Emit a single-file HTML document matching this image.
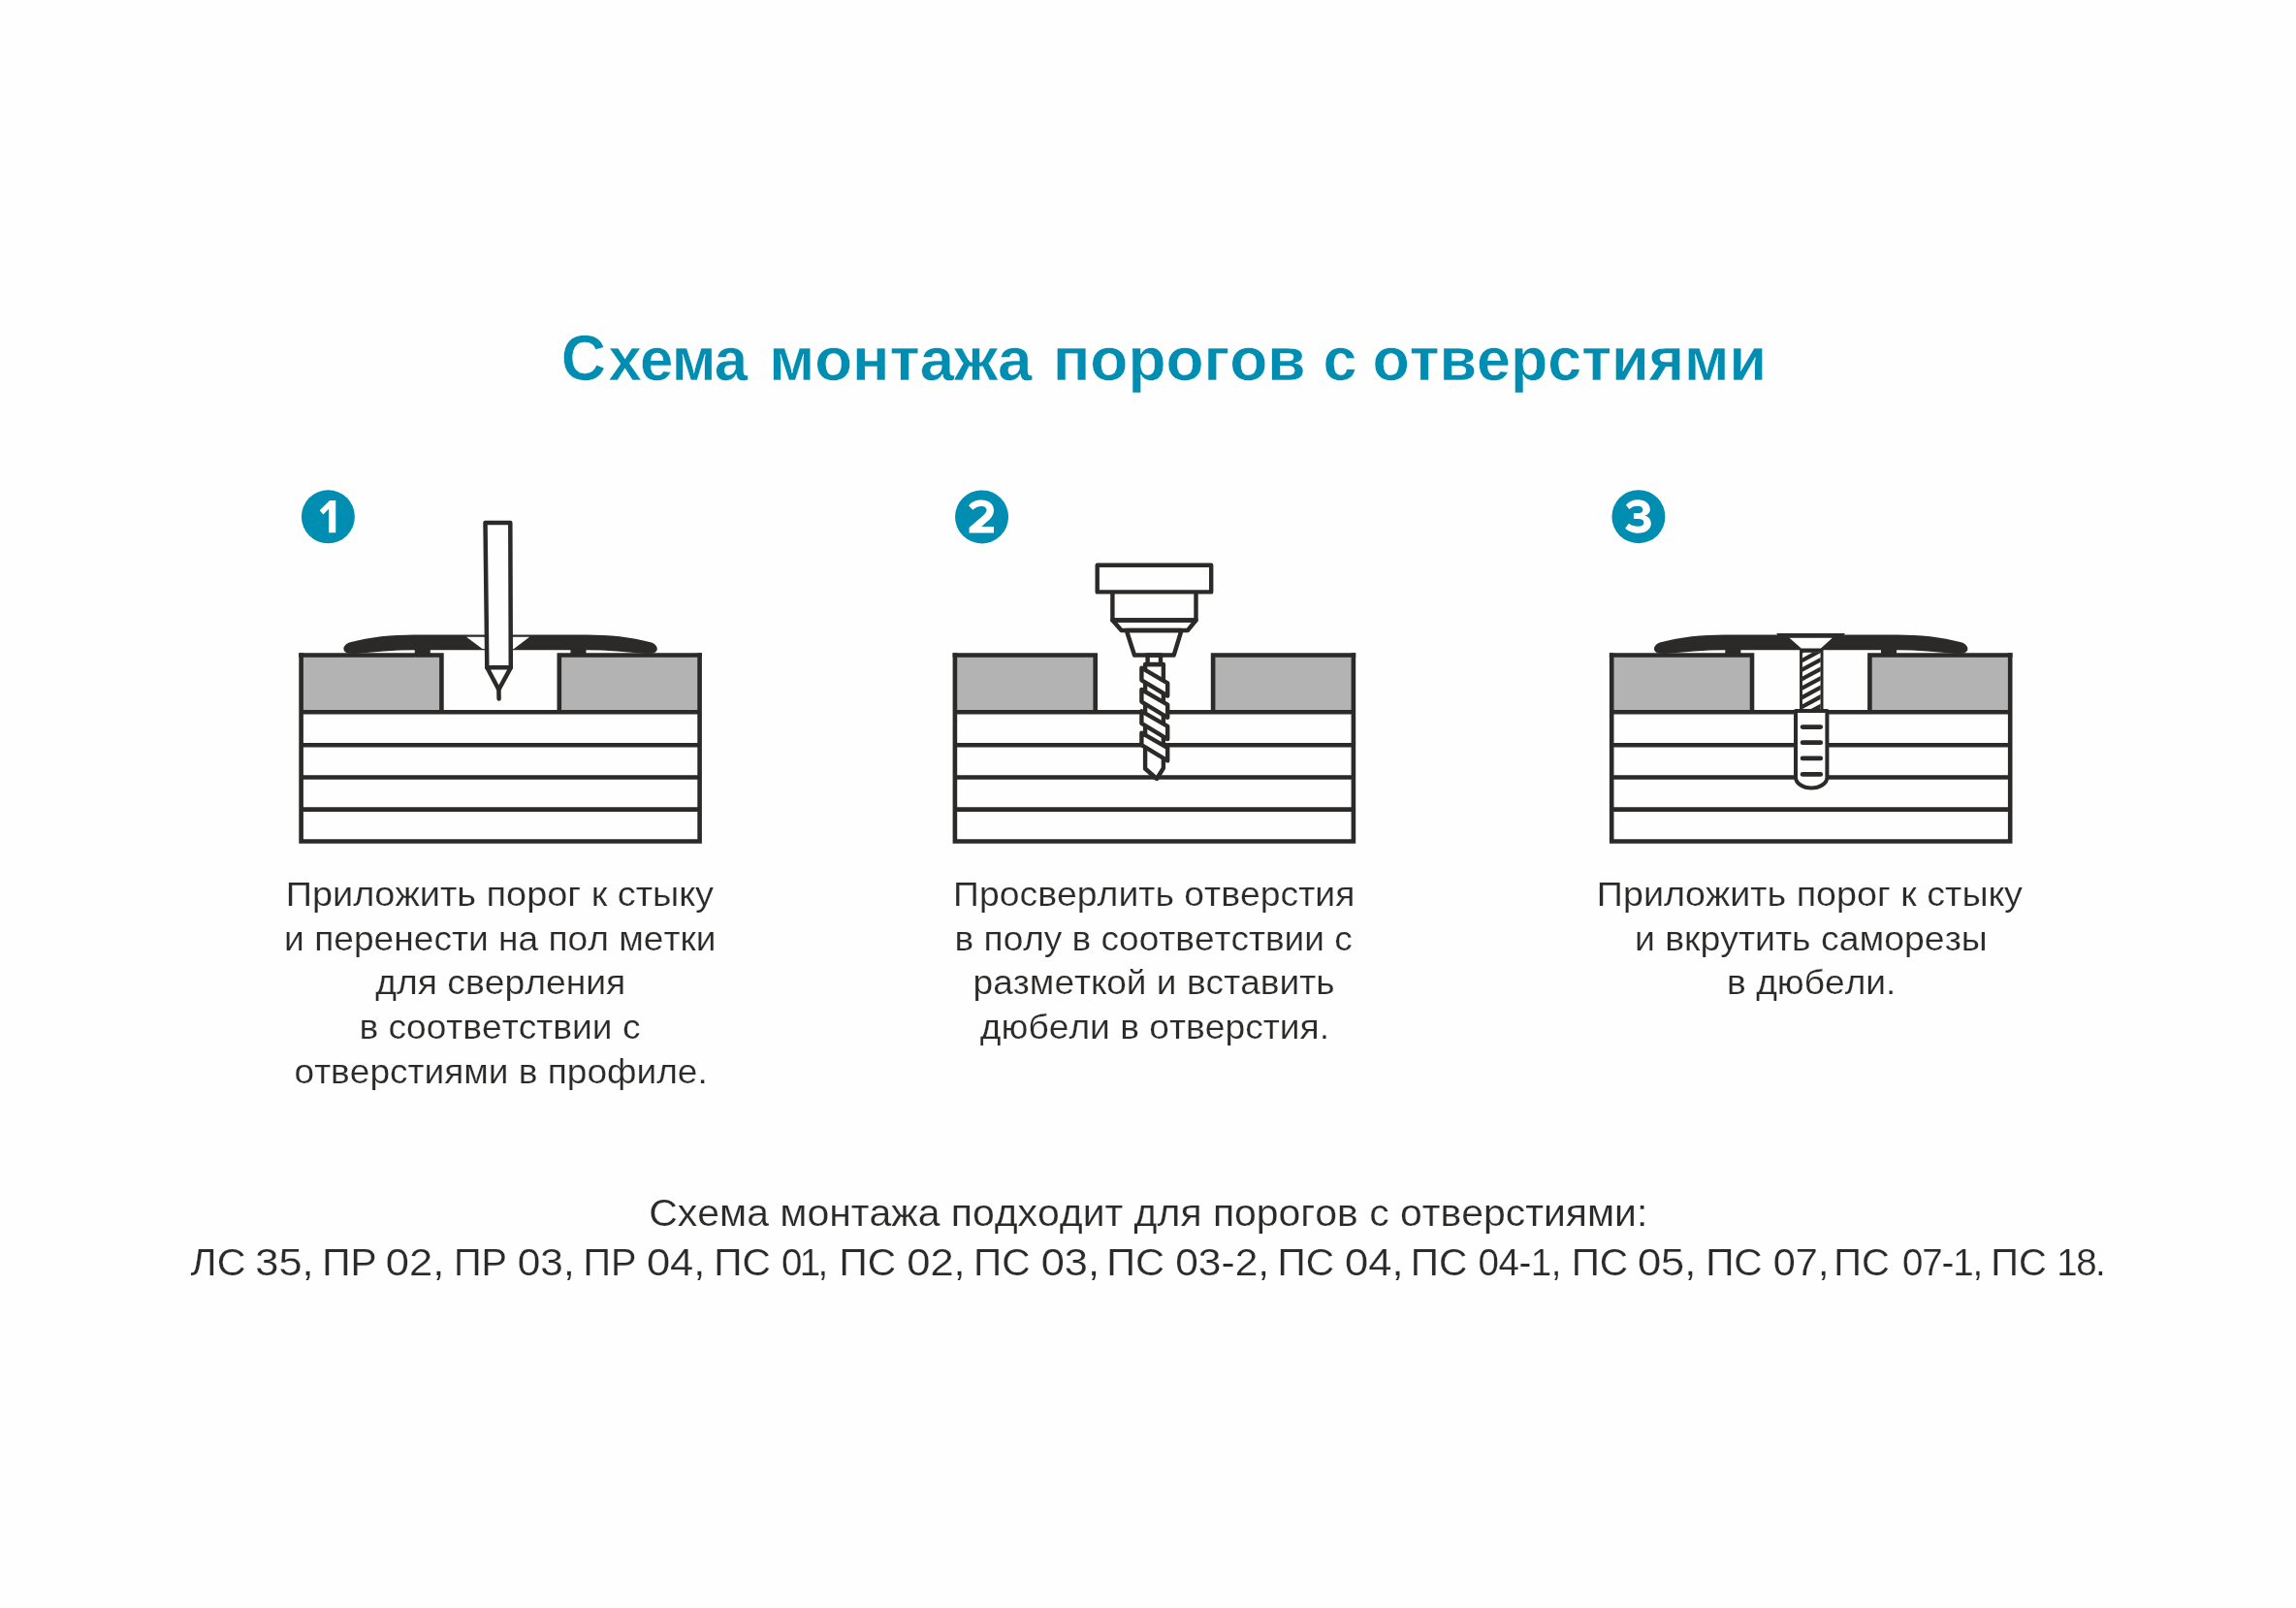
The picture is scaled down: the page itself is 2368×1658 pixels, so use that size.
<!DOCTYPE html>
<html><head><meta charset="utf-8"><title>Схема монтажа порогов с отверстиями</title>
<style>html,body{margin:0;padding:0;background:#fefefe;width:2368px;height:1658px;overflow:hidden}svg{display:block}</style>
</head><body>
<svg width="2368" height="1658" viewBox="0 0 2368 1658">
<rect width="2368" height="1658" fill="#fefefe"/>
<rect x="310.6" y="675.5" width="144.8" height="58.8" fill="#b2b3b2"/>
<rect x="576.8" y="675.5" width="144.8" height="58.8" fill="#b2b3b2"/>
<path d="M 308.3 675.5 H 455.4 V 734.3 M 576.8 734.3 V 675.5 H 723.9" fill="none" stroke="#2b2a29" stroke-width="4.6" stroke-linejoin="miter" stroke-linecap="butt"/>
<path d="M 310.6 673.2 V 867.5 H 721.6 V 673.2 M 310.6 734.3 H 721.6 M 310.6 768.2 H 721.6 M 310.6 801.5 H 721.6 M 310.6 834.6 H 721.6 " fill="none" stroke="#2b2a29" stroke-width="4.6" stroke-linecap="butt" stroke-linejoin="miter"/>
<path d="M 516.1 654.4 L 427.1 654.4 C 404.1 654.5 381.1 656.5 361.1 662.3 C 352.6 665 352.1 673 360.1 673.8 L 366.1 674 C 386.1 672.5 406.1 670.3 427.7 670.3 L 427.7 676 L 443.8 676 L 443.8 670.3 L 588.4 670.3 L 588.4 676 L 604.5 676 L 604.5 670.3 C 626.1 670.3 646.1 672.5 666.1 674 L 672.1 673.8 C 680.1 673 679.6 665 671.1 662.3 C 651.1 656.5 628.1 654.5 605.1 654.4 Z" fill="#2b2a29"/>
<path d="M 481 656.7 L 546.1 656.7 L 530 669 L 497.5 669 Z" fill="#fefefe"/>
<path d="M 500.5 539 L 526.3 539 L 526.8 688.3 L 502.3 688.3 Z" fill="#fefefe" stroke="#2b2a29" stroke-width="4.5" stroke-linejoin="round"/>
<path d="M 502.3 688.3 L 526.8 688.3 L 514.4 711 Z" fill="#fefefe" stroke="#2b2a29" stroke-width="4.5" stroke-linejoin="round"/>
<path d="M 514.4 711 L 514.6 720.5" stroke="#2b2a29" stroke-width="4.5" stroke-linecap="round"/>
<circle cx="338.4" cy="532.8" r="27.5" fill="#008db2"/><path d="M 339.05 549.22 L 346.26 549.22 L 346.26 515.88 L 340.04 515.88 L 329.74 526.23 L 333.33 530.56 L 339.05 524.84 Z" fill="#ffffff"/>
<rect x="984.9" y="675.5" width="144.8" height="58.8" fill="#b2b3b2"/>
<rect x="1251.1" y="675.5" width="144.8" height="58.8" fill="#b2b3b2"/>
<path d="M 982.6 675.5 H 1129.7 V 734.3 M 1251.1 734.3 V 675.5 H 1398.2" fill="none" stroke="#2b2a29" stroke-width="4.6" stroke-linejoin="miter" stroke-linecap="butt"/>
<path d="M 984.9 673.2 V 867.5 H 1395.9 V 673.2 M 984.9 734.3 H 1395.9 M 984.9 768.2 H 1395.9 M 984.9 801.5 H 1395.9 M 984.9 834.6 H 1395.9 " fill="none" stroke="#2b2a29" stroke-width="4.6" stroke-linecap="butt" stroke-linejoin="miter"/>
<path d="M 1181.1 685 L 1199.9 685 L 1199.9 792 L 1193 803 L 1181.1 792.5 Z" fill="#fefefe" stroke="#2b2a29" stroke-width="4.4" stroke-linejoin="round"/>
<path d="M 1177.4 688.7 L 1204.2 704.3 L 1204.2 717.5 L 1177.4 701.3 Z" fill="#fefefe" stroke="#2b2a29" stroke-width="4.4" stroke-linejoin="round"/>
<path d="M 1177.4 711 L 1204.2 726.6 L 1204.2 739.8 L 1177.4 723.6 Z" fill="#fefefe" stroke="#2b2a29" stroke-width="4.4" stroke-linejoin="round"/>
<path d="M 1177.4 733.3 L 1204.2 748.9 L 1204.2 762.1 L 1177.4 745.9 Z" fill="#fefefe" stroke="#2b2a29" stroke-width="4.4" stroke-linejoin="round"/>
<path d="M 1177.4 755.6 L 1204.2 771.2 L 1204.2 784.4 L 1177.4 768.2 Z" fill="#fefefe" stroke="#2b2a29" stroke-width="4.4" stroke-linejoin="round"/>
<g fill="#fefefe" stroke="none"><rect x="1131.7" y="582.7" width="117.5" height="27.7"/><path d="M 1147.4 610.4 L 1147.4 639.5 L 1233.5 639.5 L 1233.5 610.4"/><path d="M 1147.4 639.5 L 1156.6 650 L 1224.9 650 L 1233.5 639.5 Z"/><path d="M 1161.8 650 L 1218.5 650 L 1210.7 675.5 L 1170 675.5 Z"/><rect x="1183.6" y="675.5" width="13.4" height="9.5"/></g>
<g fill="none" stroke="#2b2a29" stroke-width="4.4" stroke-linejoin="round"><rect x="1131.7" y="582.7" width="117.5" height="27.7"/><path d="M 1147.4 610.4 L 1147.4 639.5 L 1233.5 639.5 L 1233.5 610.4"/><path d="M 1147.4 639.5 L 1156.6 650 L 1224.9 650 L 1233.5 639.5 Z"/><path d="M 1161.8 650 L 1218.5 650 L 1210.7 675.5 L 1170 675.5 Z"/><rect x="1183.6" y="675.5" width="13.4" height="9.5"/></g>
<circle cx="1012.55" cy="532.9" r="27.5" fill="#008db2"/><path d="M 999.12 521.46 C 1001.85 517.48 1006.83 515.49 1012.05 515.49 C 1019.27 515.49 1024.99 519.47 1024.99 525.93 C 1024.99 530.91 1022.25 534.39 1017.77 538.12 L 1012.3 543.1 L 1024.99 543.1 L 1024.99 549.57 L 999.61 549.57 L 999.61 544.09 L 1012.3 532.9 C 1015.78 529.91 1017.53 527.92 1017.53 525.93 C 1017.53 523.45 1015.29 521.95 1012.05 521.95 C 1008.82 521.95 1005.83 523.45 1003.35 525.69 Z" fill="#ffffff"/>
<rect x="1662.2" y="675.5" width="144.8" height="58.8" fill="#b2b3b2"/>
<rect x="1928.4" y="675.5" width="144.8" height="58.8" fill="#b2b3b2"/>
<path d="M 1659.9 675.5 H 1807 V 734.3 M 1928.4 734.3 V 675.5 H 2075.5" fill="none" stroke="#2b2a29" stroke-width="4.6" stroke-linejoin="miter" stroke-linecap="butt"/>
<path d="M 1662.2 673.2 V 867.5 H 2073.2 V 673.2 M 1662.2 734.3 H 2073.2 M 1662.2 768.2 H 2073.2 M 1662.2 801.5 H 2073.2 M 1662.2 834.6 H 2073.2 " fill="none" stroke="#2b2a29" stroke-width="4.6" stroke-linecap="butt" stroke-linejoin="miter"/>
<path d="M 1867.7 654.4 L 1778.7 654.4 C 1755.7 654.5 1732.7 656.5 1712.7 662.3 C 1704.2 665 1703.7 673 1711.7 673.8 L 1717.7 674 C 1737.7 672.5 1757.7 670.3 1779.3 670.3 L 1779.3 676 L 1795.4 676 L 1795.4 670.3 L 1940 670.3 L 1940 676 L 1956.1 676 L 1956.1 670.3 C 1977.7 670.3 1997.7 672.5 2017.7 674 L 2023.7 673.8 C 2031.7 673 2031.2 665 2022.7 662.3 C 2002.7 656.5 1979.7 654.5 1956.7 654.4 Z" fill="#2b2a29"/>
<path d="M 1832.2 652.9 L 1902.8 652.9 L 1901.4 655.5 L 1833.6 655.5 Z" fill="#2b2a29"/>
<path d="M 1845.5 657.7 L 1889.8 657.7 L 1877.9 668.4 L 1857.7 668.4 Z" fill="#fefefe"/>
<rect x="1857.5" y="671.4" width="21.55" height="61" fill="#fefefe" stroke="#2b2a29" stroke-width="2.9"/>
<clipPath id="sc"><rect x="1858.9" y="672.8" width="18.8" height="59"/></clipPath>
<path d="M 1850 666.51 L 1890 644.91 M 1850 676.06 L 1890 654.46 M 1850 685.61 L 1890 664.01 M 1850 695.16 L 1890 673.56 M 1850 704.71 L 1890 683.11 M 1850 714.26 L 1890 692.66 M 1850 723.81 L 1890 702.21 M 1850 733.36 L 1890 711.76 M 1850 742.91 L 1890 721.31 M 1850 752.46 L 1890 730.86 " stroke="#2b2a29" stroke-width="4.2" clip-path="url(#sc)"/>
<path d="M 1852 733 L 1852 801.5 A 16.2 11 0 0 0 1884.4 801.5 L 1884.4 733 Z" fill="#fefefe" stroke="#2b2a29" stroke-width="4" stroke-linejoin="round"/>
<path d="M 1859.1 749.6 L 1877.7 749.6" stroke="#2b2a29" stroke-width="4.8" stroke-linecap="round"/>
<path d="M 1859.1 765.7 L 1877.7 765.7" stroke="#2b2a29" stroke-width="4.8" stroke-linecap="round"/>
<path d="M 1859.1 781.9 L 1877.7 781.9" stroke="#2b2a29" stroke-width="4.8" stroke-linecap="round"/>
<path d="M 1859.1 798.4 L 1877.7 798.4" stroke="#2b2a29" stroke-width="4.8" stroke-linecap="round"/>
<circle cx="1689.9" cy="532.7" r="27.5" fill="#008db2"/><path d="M 1676.96 520.66 C 1679.95 516.93 1684.92 515.19 1689.4 515.19 C 1696.37 515.19 1701.84 518.92 1701.84 525.39 C 1701.84 528.37 1699.85 530.36 1696.37 531.61 C 1700.35 532.85 1702.84 535.83 1702.84 539.81 C 1702.84 545.78 1697.36 549.76 1689.4 549.76 C 1683.93 549.76 1678.95 547.77 1676.22 544.54 L 1679.95 539.81 C 1682.44 542.05 1685.92 542.8 1689.4 542.8 C 1693.38 542.8 1695.37 541.31 1695.37 538.82 C 1695.37 536.33 1693.38 535.09 1689.9 535.09 L 1684.92 535.09 L 1684.92 529.12 L 1689.4 529.12 C 1692.39 529.12 1694.38 527.87 1694.38 525.64 C 1694.38 523.15 1692.14 521.66 1688.9 521.66 C 1685.42 521.66 1682.44 522.9 1680.45 524.89 Z" fill="#ffffff"/>
<filter id="gf" x="0" y="0" width="2368" height="1658" filterUnits="userSpaceOnUse"><feOffset dx="0" dy="0"/></filter><g filter="url(#gf)">
<text stroke="#fefefe" stroke-width="0.5" paint-order="fill stroke" x="578.67" y="391.6" textLength="46.28" lengthAdjust="spacingAndGlyphs" style="font-family:'Liberation Sans',sans-serif;font-kerning:none;font-weight:700;font-size:66px" fill="#008db2" >С</text>
<text stroke="#fefefe" stroke-width="0.5" paint-order="fill stroke" transform="translate(627.38 391.6) scale(0.98 1)" x="0" y="0" letter-spacing="-1.650" style="font-family:'Liberation Sans',sans-serif;font-kerning:none;font-weight:700;font-size:63px" fill="#008db2" >хема</text>
<text stroke="#fefefe" stroke-width="0.5" paint-order="fill stroke" x="793.16" y="391.6" textLength="271.34" lengthAdjust="spacingAndGlyphs" style="font-family:'Liberation Sans',sans-serif;font-kerning:none;font-weight:700;font-size:63px" fill="#008db2" >монтажа</text>
<text stroke="#fefefe" stroke-width="0.5" paint-order="fill stroke" x="1085.73" y="391.6" textLength="260.97" lengthAdjust="spacingAndGlyphs" style="font-family:'Liberation Sans',sans-serif;font-kerning:none;font-weight:700;font-size:63px" fill="#008db2" >порогов</text>
<text stroke="#fefefe" stroke-width="0.5" paint-order="fill stroke" x="1364.45" y="391.6" textLength="34.89" lengthAdjust="spacingAndGlyphs" style="font-family:'Liberation Sans',sans-serif;font-kerning:none;font-weight:700;font-size:63px" fill="#008db2" >с</text>
<text stroke="#fefefe" stroke-width="0.5" paint-order="fill stroke" x="1415.45" y="391.6" textLength="406.6" lengthAdjust="spacingAndGlyphs" style="font-family:'Liberation Sans',sans-serif;font-kerning:none;font-weight:700;font-size:63px" fill="#008db2" >отверстиями</text>
<text x="294.73" y="933.9" textLength="441.15" lengthAdjust="spacingAndGlyphs" style="font-family:'Liberation Sans',sans-serif;font-kerning:none;font-size:35.3px" fill="#2b2a29" stroke="#fefefe" stroke-width="0.2" paint-order="fill stroke">Приложить порог к стыку</text>
<text x="293.13" y="979.5" textLength="445.25" lengthAdjust="spacingAndGlyphs" style="font-family:'Liberation Sans',sans-serif;font-kerning:none;font-size:35.3px" fill="#2b2a29" stroke="#fefefe" stroke-width="0.2" paint-order="fill stroke">и перенести на пол метки</text>
<text x="387.34" y="1024.9" textLength="257.95" lengthAdjust="spacingAndGlyphs" style="font-family:'Liberation Sans',sans-serif;font-kerning:none;font-size:35.3px" fill="#2b2a29" stroke="#fefefe" stroke-width="0.2" paint-order="fill stroke">для сверления</text>
<text x="370.42" y="1070.8" textLength="290.05" lengthAdjust="spacingAndGlyphs" style="font-family:'Liberation Sans',sans-serif;font-kerning:none;font-size:35.3px" fill="#2b2a29" stroke="#fefefe" stroke-width="0.2" paint-order="fill stroke">в соответствии с</text>
<text x="303.54" y="1116.8" textLength="426.24" lengthAdjust="spacingAndGlyphs" style="font-family:'Liberation Sans',sans-serif;font-kerning:none;font-size:35.3px" fill="#2b2a29" stroke="#fefefe" stroke-width="0.2" paint-order="fill stroke">отверстиями в профиле.</text>
<text x="983.07" y="933.9" textLength="414.42" lengthAdjust="spacingAndGlyphs" style="font-family:'Liberation Sans',sans-serif;font-kerning:none;font-size:35.3px" fill="#2b2a29" stroke="#fefefe" stroke-width="0.2" paint-order="fill stroke">Просверлить отверстия</text>
<text x="984.63" y="979.5" textLength="410.14" lengthAdjust="spacingAndGlyphs" style="font-family:'Liberation Sans',sans-serif;font-kerning:none;font-size:35.3px" fill="#2b2a29" stroke="#fefefe" stroke-width="0.2" paint-order="fill stroke">в полу в соответствии с</text>
<text x="1003.61" y="1024.9" textLength="372.91" lengthAdjust="spacingAndGlyphs" style="font-family:'Liberation Sans',sans-serif;font-kerning:none;font-size:35.3px" fill="#2b2a29" stroke="#fefefe" stroke-width="0.2" paint-order="fill stroke">разметкой и вставить</text>
<text x="1010.84" y="1070.8" textLength="360.26" lengthAdjust="spacingAndGlyphs" style="font-family:'Liberation Sans',sans-serif;font-kerning:none;font-size:35.3px" fill="#2b2a29" stroke="#fefefe" stroke-width="0.2" paint-order="fill stroke">дюбели в отверстия.</text>
<text x="1646.84" y="933.9" textLength="439.03" lengthAdjust="spacingAndGlyphs" style="font-family:'Liberation Sans',sans-serif;font-kerning:none;font-size:35.3px" fill="#2b2a29" stroke="#fefefe" stroke-width="0.2" paint-order="fill stroke">Приложить порог к стыку</text>
<text x="1685.91" y="979.5" textLength="363.79" lengthAdjust="spacingAndGlyphs" style="font-family:'Liberation Sans',sans-serif;font-kerning:none;font-size:35.3px" fill="#2b2a29" stroke="#fefefe" stroke-width="0.2" paint-order="fill stroke">и вкрутить саморезы</text>
<text x="1781.12" y="1024.9" textLength="174.27" lengthAdjust="spacingAndGlyphs" style="font-family:'Liberation Sans',sans-serif;font-kerning:none;font-size:35.3px" fill="#2b2a29" stroke="#fefefe" stroke-width="0.2" paint-order="fill stroke">в дюбели.</text>
<text x="669.22" y="1263.9" textLength="1030.11" lengthAdjust="spacingAndGlyphs" style="font-family:'Liberation Sans',sans-serif;font-kerning:none;font-size:39.3px" fill="#2b2a29" stroke="#fefefe" stroke-width="0.2" paint-order="fill stroke">Схема монтажа подходит для порогов с отверстиями:</text>
<text x="196.64" y="1314.6" textLength="56.83" lengthAdjust="spacingAndGlyphs" style="font-family:'Liberation Sans',sans-serif;font-kerning:none;font-size:39.3px" fill="#2b2a29" stroke="#fefefe" stroke-width="0.2" paint-order="fill stroke">ЛС</text>
<text x="263.24" y="1314.6" textLength="60.46" lengthAdjust="spacingAndGlyphs" style="font-family:'Liberation Sans',sans-serif;font-kerning:none;font-size:39.3px" fill="#2b2a29" stroke="#fefefe" stroke-width="0.2" paint-order="fill stroke">35,</text>
<text x="332.2" y="1314.6" textLength="56.34" lengthAdjust="spacingAndGlyphs" style="font-family:'Liberation Sans',sans-serif;font-kerning:none;font-size:39.3px" fill="#2b2a29" stroke="#fefefe" stroke-width="0.2" paint-order="fill stroke">ПР</text>
<text x="397.8" y="1314.6" textLength="60.51" lengthAdjust="spacingAndGlyphs" style="font-family:'Liberation Sans',sans-serif;font-kerning:none;font-size:39.3px" fill="#2b2a29" stroke="#fefefe" stroke-width="0.2" paint-order="fill stroke">02,</text>
<text x="468.08" y="1314.6" textLength="55.01" lengthAdjust="spacingAndGlyphs" style="font-family:'Liberation Sans',sans-serif;font-kerning:none;font-size:39.3px" fill="#2b2a29" stroke="#fefefe" stroke-width="0.2" paint-order="fill stroke">ПР</text>
<text x="533.74" y="1314.6" textLength="58.97" lengthAdjust="spacingAndGlyphs" style="font-family:'Liberation Sans',sans-serif;font-kerning:none;font-size:39.3px" fill="#2b2a29" stroke="#fefefe" stroke-width="0.2" paint-order="fill stroke">03,</text>
<text x="601.38" y="1314.6" textLength="55.01" lengthAdjust="spacingAndGlyphs" style="font-family:'Liberation Sans',sans-serif;font-kerning:none;font-size:39.3px" fill="#2b2a29" stroke="#fefefe" stroke-width="0.2" paint-order="fill stroke">ПР</text>
<text x="666.9" y="1314.6" textLength="60.51" lengthAdjust="spacingAndGlyphs" style="font-family:'Liberation Sans',sans-serif;font-kerning:none;font-size:39.3px" fill="#2b2a29" stroke="#fefefe" stroke-width="0.2" paint-order="fill stroke">04,</text>
<text x="736.31" y="1314.6" textLength="58.43" lengthAdjust="spacingAndGlyphs" style="font-family:'Liberation Sans',sans-serif;font-kerning:none;font-size:39.3px" fill="#2b2a29" stroke="#fefefe" stroke-width="0.2" paint-order="fill stroke">ПС</text>
<text transform="translate(806 1314.6) scale(0.98 1)" x="0" y="0" letter-spacing="-2.742" style="font-family:'Liberation Sans',sans-serif;font-kerning:none;font-size:39.3px" fill="#2b2a29" stroke="#fefefe" stroke-width="0.2" paint-order="fill stroke">01,</text>
<text x="865.61" y="1314.6" textLength="58.43" lengthAdjust="spacingAndGlyphs" style="font-family:'Liberation Sans',sans-serif;font-kerning:none;font-size:39.3px" fill="#2b2a29" stroke="#fefefe" stroke-width="0.2" paint-order="fill stroke">ПС</text>
<text x="935.2" y="1314.6" textLength="60.51" lengthAdjust="spacingAndGlyphs" style="font-family:'Liberation Sans',sans-serif;font-kerning:none;font-size:39.3px" fill="#2b2a29" stroke="#fefefe" stroke-width="0.2" paint-order="fill stroke">02,</text>
<text x="1004.11" y="1314.6" textLength="58.43" lengthAdjust="spacingAndGlyphs" style="font-family:'Liberation Sans',sans-serif;font-kerning:none;font-size:39.3px" fill="#2b2a29" stroke="#fefefe" stroke-width="0.2" paint-order="fill stroke">ПС</text>
<text x="1073.7" y="1314.6" textLength="60.4" lengthAdjust="spacingAndGlyphs" style="font-family:'Liberation Sans',sans-serif;font-kerning:none;font-size:39.3px" fill="#2b2a29" stroke="#fefefe" stroke-width="0.2" paint-order="fill stroke">03,</text>
<text x="1141.23" y="1314.6" textLength="59.85" lengthAdjust="spacingAndGlyphs" style="font-family:'Liberation Sans',sans-serif;font-kerning:none;font-size:39.3px" fill="#2b2a29" stroke="#fefefe" stroke-width="0.2" paint-order="fill stroke">ПС</text>
<text x="1212.24" y="1314.6" textLength="96.88" lengthAdjust="spacingAndGlyphs" style="font-family:'Liberation Sans',sans-serif;font-kerning:none;font-size:39.3px" fill="#2b2a29" stroke="#fefefe" stroke-width="0.2" paint-order="fill stroke">03-2,</text>
<text x="1317.61" y="1314.6" textLength="58.43" lengthAdjust="spacingAndGlyphs" style="font-family:'Liberation Sans',sans-serif;font-kerning:none;font-size:39.3px" fill="#2b2a29" stroke="#fefefe" stroke-width="0.2" paint-order="fill stroke">ПС</text>
<text x="1387.1" y="1314.6" textLength="60.51" lengthAdjust="spacingAndGlyphs" style="font-family:'Liberation Sans',sans-serif;font-kerning:none;font-size:39.3px" fill="#2b2a29" stroke="#fefefe" stroke-width="0.2" paint-order="fill stroke">04,</text>
<text x="1454.81" y="1314.6" textLength="58.43" lengthAdjust="spacingAndGlyphs" style="font-family:'Liberation Sans',sans-serif;font-kerning:none;font-size:39.3px" fill="#2b2a29" stroke="#fefefe" stroke-width="0.2" paint-order="fill stroke">ПС</text>
<text transform="translate(1524.5 1314.6) scale(0.98 1)" x="0" y="0" letter-spacing="-0.464" style="font-family:'Liberation Sans',sans-serif;font-kerning:none;font-size:39.3px" fill="#2b2a29" stroke="#fefefe" stroke-width="0.2" paint-order="fill stroke">04-1,</text>
<text x="1620.71" y="1314.6" textLength="58.43" lengthAdjust="spacingAndGlyphs" style="font-family:'Liberation Sans',sans-serif;font-kerning:none;font-size:39.3px" fill="#2b2a29" stroke="#fefefe" stroke-width="0.2" paint-order="fill stroke">ПС</text>
<text x="1688.9" y="1314.6" textLength="60.51" lengthAdjust="spacingAndGlyphs" style="font-family:'Liberation Sans',sans-serif;font-kerning:none;font-size:39.3px" fill="#2b2a29" stroke="#fefefe" stroke-width="0.2" paint-order="fill stroke">05,</text>
<text x="1759.21" y="1314.6" textLength="58.43" lengthAdjust="spacingAndGlyphs" style="font-family:'Liberation Sans',sans-serif;font-kerning:none;font-size:39.3px" fill="#2b2a29" stroke="#fefefe" stroke-width="0.2" paint-order="fill stroke">ПС</text>
<text x="1828.78" y="1314.6" textLength="57.65" lengthAdjust="spacingAndGlyphs" style="font-family:'Liberation Sans',sans-serif;font-kerning:none;font-size:39.3px" fill="#2b2a29" stroke="#fefefe" stroke-width="0.2" paint-order="fill stroke">07,</text>
<text x="1891.37" y="1314.6" textLength="57.45" lengthAdjust="spacingAndGlyphs" style="font-family:'Liberation Sans',sans-serif;font-kerning:none;font-size:39.3px" fill="#2b2a29" stroke="#fefefe" stroke-width="0.2" paint-order="fill stroke">ПС</text>
<text transform="translate(1962 1314.6) scale(0.98 1)" x="0" y="0" letter-spacing="-1.153" style="font-family:'Liberation Sans',sans-serif;font-kerning:none;font-size:39.3px" fill="#2b2a29" stroke="#fefefe" stroke-width="0.2" paint-order="fill stroke">07-1,</text>
<text x="2053.37" y="1314.6" textLength="57.45" lengthAdjust="spacingAndGlyphs" style="font-family:'Liberation Sans',sans-serif;font-kerning:none;font-size:39.3px" fill="#2b2a29" stroke="#fefefe" stroke-width="0.2" paint-order="fill stroke">ПС</text>
<text transform="translate(2121.27 1314.6) scale(0.98 1)" x="0" y="0" letter-spacing="-1.576" style="font-family:'Liberation Sans',sans-serif;font-kerning:none;font-size:39.3px" fill="#2b2a29" stroke="#fefefe" stroke-width="0.2" paint-order="fill stroke">18.</text>
</g>
</svg>
</body></html>
